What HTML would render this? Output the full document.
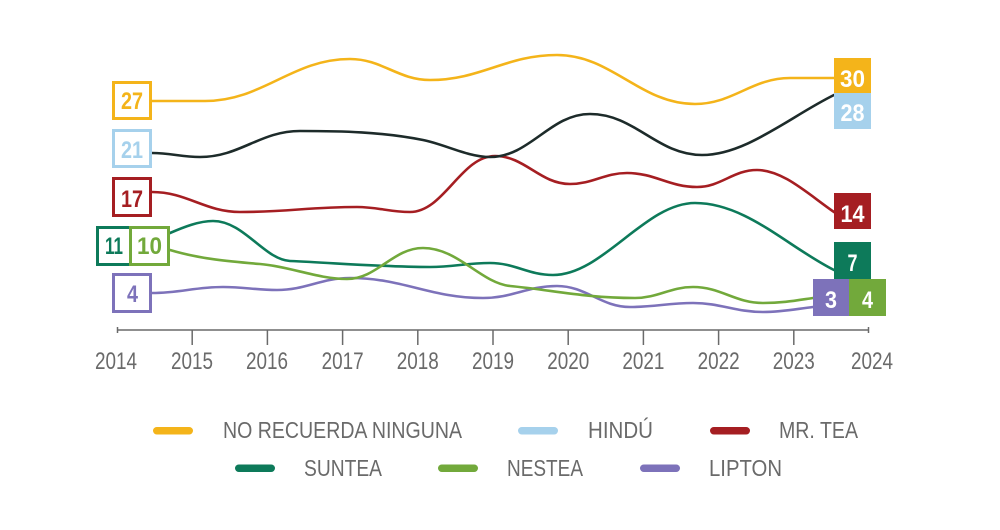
<!DOCTYPE html>
<html><head><meta charset="utf-8"><style>
html,body{margin:0;padding:0;background:#fff;}
svg{display:block;}
text{font-family:"Liberation Sans",sans-serif;}
</style></head><body>
<svg width="1000" height="530" viewBox="0 0 1000 530" xmlns="http://www.w3.org/2000/svg">
<g fill="none" stroke-width="2.6" stroke-linecap="round" stroke-linejoin="round">
<!-- Lipton -->
<path stroke="#7D72BA" d="M152,293 C180,293 195,287 223,287 C245,287 255,290 277,290 C306,290 321,278 350,278 C403,278 430,298 483,298 C513,298 527,286 557,286 C586,286 601,307 630,307 C655,307 668,303 693,303 C721,303 735,312 763,312 C783,312 796,309 813,307"/>
<!-- Suntea -->
<path stroke="#0D7A5A" d="M170,233 C184,227 199,221 213,221 C244,221 264,259.5 290,261 C336,263 383,267 430,267 C454,267 466,263 490,263 C515,263 528,275 553,275 C603,275 645,203 695,203 C746,203 788,247 834,270"/>
<!-- Nestea -->
<path stroke="#72A93B" d="M170,250 C200,259 230,261.6 260,264 C289,266.3 318,279 347,279 C377,279 393,248 423,248 C458,248 481,283 510,286 C552,290 585,298 635,298 C658,298 670,287 693,287 C721,287 735,303 763,303 C783,303 796,300.5 813,298"/>
<!-- Mr Tea -->
<path stroke="#A51E22" d="M152,192 C187,192 205,212 240,212 C287,212 310,207 357,207 C378,207 389,212 410,212 C444,212 461,156 495,156 C525,156 540,184 570,184 C593,184 604,173 627,173 C655,173 669,187 697,187 C721,187 733,170 757,170 C783,170 808,194 834,212"/>
<!-- Hindu (dark) -->
<path stroke="#1D2B2A" d="M152,153 C171,153 181,157 200,157 C240,157 260,131 300,131 C341,131 382,131.8 423,140 C445,144.4 468,157 490,157 C530,157 550,114 590,114 C635,114 657,155 702,155 C746,155 790,116.6 834,95"/>
<!-- No recuerda -->
<path stroke="#F4B41A" d="M152,101 L205,101 C263,101 292,59 350,59 C382,59 398,80 430,80 C481,80 506,55 557,55 C612,55 640,104 695,104 C733,104 752,78 790,78 L834,78"/>
</g>

<!-- Left boxes -->
<g fill="#fff" stroke-width="3">
<rect x="113.5" y="82.5" width="37" height="36" stroke="#F4B41A"/>
<rect x="113.5" y="130.5" width="37" height="36" stroke="#A6D1EC"/>
<rect x="113.5" y="178.5" width="37" height="37" stroke="#A51E22"/>
<rect x="97.5" y="227.5" width="33" height="37" stroke="#0D7A5A"/>
<rect x="130.5" y="227.5" width="38" height="37" stroke="#72A93B"/>
<rect x="113.5" y="274.5" width="37" height="37" stroke="#7D72BA"/>
</g>
<g font-weight="bold" font-size="24" text-anchor="middle">
<text x="132" y="109" fill="#F4B41A" textLength="22" lengthAdjust="spacingAndGlyphs">27</text>
<text x="132" y="158" fill="#A6D1EC" textLength="22" lengthAdjust="spacingAndGlyphs">21</text>
<text x="132" y="207" fill="#A51E22" textLength="22" lengthAdjust="spacingAndGlyphs">17</text>
<text x="114" y="254" fill="#0D7A5A" textLength="18" lengthAdjust="spacingAndGlyphs">11</text>
<text x="149.5" y="254" fill="#72A93B" textLength="25" lengthAdjust="spacingAndGlyphs">10</text>
<text x="132.5" y="302" fill="#7D72BA" textLength="11" lengthAdjust="spacingAndGlyphs">4</text>
</g>

<!-- Right boxes -->
<rect x="834" y="58" width="37" height="35" fill="#F4B41A"/>
<rect x="834" y="93" width="37" height="36" fill="#A6D1EC"/>
<rect x="834" y="193" width="37" height="36" fill="#A51E22"/>
<rect x="834" y="242" width="37" height="37" fill="#0D7A5A"/>
<rect x="813" y="279" width="36" height="37" fill="#7D72BA"/>
<rect x="849" y="279" width="37" height="37" fill="#72A93B"/>
<g font-weight="bold" font-size="24" text-anchor="middle" fill="#fff">
<text x="852.5" y="87" textLength="25" lengthAdjust="spacingAndGlyphs">30</text>
<text x="852.5" y="121" textLength="24" lengthAdjust="spacingAndGlyphs">28</text>
<text x="852.5" y="222" textLength="24" lengthAdjust="spacingAndGlyphs">14</text>
<text x="852.5" y="271" textLength="10" lengthAdjust="spacingAndGlyphs">7</text>
<text x="831" y="308" textLength="12" lengthAdjust="spacingAndGlyphs">3</text>
<text x="867.5" y="308" textLength="11" lengthAdjust="spacingAndGlyphs">4</text>
</g>

<!-- Axis -->
<g stroke="#6a6a6a" stroke-width="1.5">
<line x1="117" y1="330" x2="869" y2="330"/>
<line x1="117.5" y1="327" x2="117.5" y2="333"/>
<line x1="868.5" y1="327" x2="868.5" y2="333"/>
<line x1="192.2" y1="330" x2="192.2" y2="345"/>
<line x1="267.4" y1="330" x2="267.4" y2="345"/>
<line x1="342.6" y1="330" x2="342.6" y2="345"/>
<line x1="417.8" y1="330" x2="417.8" y2="345"/>
<line x1="493" y1="330" x2="493" y2="345"/>
<line x1="568.2" y1="330" x2="568.2" y2="345"/>
<line x1="643.4" y1="330" x2="643.4" y2="345"/>
<line x1="718.6" y1="330" x2="718.6" y2="345"/>
<line x1="793.8" y1="330" x2="793.8" y2="345"/>
</g>
<g font-size="24" fill="#6a6a6a" text-anchor="middle">
<text x="116" y="369" textLength="42" lengthAdjust="spacingAndGlyphs">2014</text>
<text x="192" y="369" textLength="42" lengthAdjust="spacingAndGlyphs">2015</text>
<text x="267" y="369" textLength="42" lengthAdjust="spacingAndGlyphs">2016</text>
<text x="342.6" y="369" textLength="42" lengthAdjust="spacingAndGlyphs">2017</text>
<text x="417.8" y="369" textLength="42" lengthAdjust="spacingAndGlyphs">2018</text>
<text x="493" y="369" textLength="42" lengthAdjust="spacingAndGlyphs">2019</text>
<text x="568.2" y="369" textLength="42" lengthAdjust="spacingAndGlyphs">2020</text>
<text x="643.4" y="369" textLength="42" lengthAdjust="spacingAndGlyphs">2021</text>
<text x="718.6" y="369" textLength="42" lengthAdjust="spacingAndGlyphs">2022</text>
<text x="793.8" y="369" textLength="42" lengthAdjust="spacingAndGlyphs">2023</text>
<text x="872" y="369" textLength="42" lengthAdjust="spacingAndGlyphs">2024</text>
</g>

<!-- Legend -->
<rect x="153" y="427" width="40" height="7.5" rx="3.75" fill="#F4B41A"/>
<rect x="518" y="427" width="40" height="7.5" rx="3.75" fill="#A6D1EC"/>
<rect x="710" y="427" width="40" height="7.5" rx="3.75" fill="#A51E22"/>
<rect x="235" y="464.5" width="40" height="7.5" rx="3.75" fill="#0D7A5A"/>
<rect x="438" y="464.5" width="40" height="7.5" rx="3.75" fill="#72A93B"/>
<rect x="640" y="464.5" width="40" height="7.5" rx="3.75" fill="#7D72BA"/>
<g font-size="23" fill="#6a6a6a">
<text x="223" y="438" textLength="239" lengthAdjust="spacingAndGlyphs">NO RECUERDA NINGUNA</text>
<text x="588" y="438" textLength="65" lengthAdjust="spacingAndGlyphs">HINDÚ</text>
<text x="779" y="438" textLength="79" lengthAdjust="spacingAndGlyphs">MR. TEA</text>
<text x="304" y="476" textLength="78" lengthAdjust="spacingAndGlyphs">SUNTEA</text>
<text x="507" y="476" textLength="76" lengthAdjust="spacingAndGlyphs">NESTEA</text>
<text x="709" y="476" textLength="73" lengthAdjust="spacingAndGlyphs">LIPTON</text>
</g>
</svg>
</body></html>
